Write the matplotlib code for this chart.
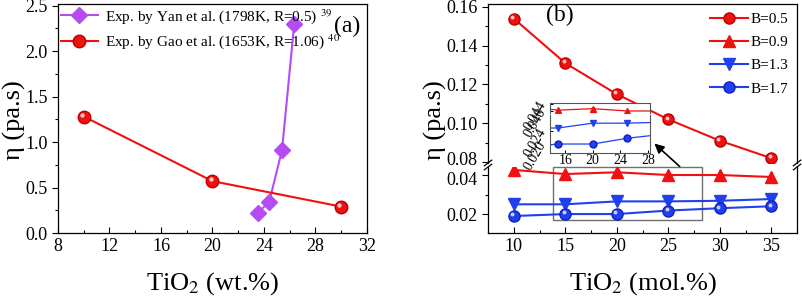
import matplotlib
matplotlib.use('Agg')
import matplotlib.pyplot as plt
from matplotlib.patches import Rectangle, FancyArrowPatch
from matplotlib.ticker import MultipleLocator, FormatStrFormatter
from matplotlib.transforms import offset_copy, ScaledTranslation

plt.rcParams['font.family'] = ['Liberation Serif', 'DejaVu Serif']
plt.rcParams['mathtext.fontset'] = 'stix'

# panel (a) data
yan_x = [23.5, 24.4, 25.4, 26.35]
yan_y = [0.22, 0.34, 0.91, 2.30]
gao_x = [10, 20, 30]
gao_y = [1.28, 0.57, 0.29]

# panel (b) data
tio2_mol = [10, 15, 20, 25, 30, 35]
eta_b05 = [0.154, 0.131, 0.115, 0.102, 0.091, 0.082]
eta_b09 = [0.0426, 0.0405, 0.0414, 0.0400, 0.0400, 0.0390]
eta_b13 = [0.0250, 0.0250, 0.0265, 0.0265, 0.0268, 0.0277]
eta_b17 = [0.0190, 0.0200, 0.0200, 0.0218, 0.0230, 0.0240]
up_ticks = [0.08, 0.10, 0.12, 0.14, 0.16]
lo_ticks = [0.02, 0.04]

red = '#f01010'
blue = '#2040f0'
purple = '#b44cf0'

fig = plt.figure(figsize=(8.02, 3.0), dpi=100)


def style_ticks(ax):
    ax.tick_params(axis='x', which='both', direction='in', top=False, labelsize=13)
    ax.tick_params(axis='y', which='both', direction='out', right=False, labelsize=13)
    ax.tick_params(which='major', length=4, width=0.8)
    ax.tick_params(which='minor', length=2.5, width=0.8)
    for s in ax.spines.values():
        s.set_linewidth(0.9)


def shine(ax, x, y, col, ms):
    # small highlight so the balls look like the original spheres
    tr = offset_copy(ax.transData, fig=fig, x=-ms * 0.15, y=ms * 0.15, units='points')
    ax.plot(x, y, 'o', ms=ms * 0.35, color=col, mec='none', transform=tr, zorder=4)


# ---------------- panel (a) ----------------
ax_a = fig.add_axes([0.0723, 0.2233, 0.3853, 0.7634])
ax_a.plot(yan_x, yan_y, '-D', color=purple, lw=1.5, ms=8, mec=purple,
          label='Exp. by Yan et al. (1798K, R=0.5) $^{39}$')
ax_a.plot(gao_x, gao_y, '-o', color=red, lw=1.5, ms=9, mec='#c00000',
          label='Exp. by Gao et al. (1653K, R=1.06) $^{40}$')
shine(ax_a, gao_x, gao_y, '#ffc8c8', 9)
ax_a.set_xlim(8, 32)
ax_a.set_ylim(0, 2.517)
ax_a.xaxis.set_major_locator(MultipleLocator(4))
ax_a.xaxis.set_minor_locator(MultipleLocator(2))
ax_a.yaxis.set_major_locator(MultipleLocator(0.5))
ax_a.yaxis.set_minor_locator(MultipleLocator(0.25))
ax_a.yaxis.set_major_formatter(FormatStrFormatter('%.1f'))
style_ticks(ax_a)
ax_a.legend(loc='upper left', frameon=False, fontsize=11, handlelength=2.4,
            borderaxespad=0.05, borderpad=0.15, labelspacing=0.4, handletextpad=0.45)
ax_a.text(0.935, 0.9, '(a)', transform=ax_a.transAxes, fontsize=17,
          ha='center', va='center')
ax_a.set_xlabel('TiO$_2$ (wt.%)', fontsize=19, labelpad=11)
fig.text(0.018, 0.6, 'η (pa.s)', rotation=90, fontsize=19, ha='center', va='center')

# ---------------- panel (b), broken axis ----------------
left_b, width_b = 0.6085, 0.3853
ax_up = fig.add_axes([left_b, 0.4567, width_b, 0.53])
ax_lo = fig.add_axes([left_b, 0.2233, width_b, 0.22])

for ax in (ax_up, ax_lo):
    ax.plot(tio2_mol, eta_b05, '-o', color=red, lw=1.5, ms=8, mec='#c00000', label='B=0.5')
    ax.plot(tio2_mol, eta_b09, '-^', color=red, lw=1.5, ms=8, mec=red, label='B=0.9')
    ax.plot(tio2_mol, eta_b13, '-v', color=blue, lw=1.5, ms=8, mec=blue, label='B=1.3')
    ax.plot(tio2_mol, eta_b17, '-o', color=blue, lw=1.5, ms=8, mec='#1020c0', label='B=1.7')
    shine(ax, tio2_mol, eta_b05, '#ffc8c8', 8)
    shine(ax, tio2_mol, eta_b17, '#c8d0ff', 8)
    ax.set_xlim(7.5, 37.5)
    ax.xaxis.set_major_locator(MultipleLocator(5))
    ax.xaxis.set_minor_locator(MultipleLocator(2.5))
    style_ticks(ax)

ax_up.set_ylim(0.0795, 0.1615)
ax_up.set_yticks(up_ticks)
ax_up.set_yticklabels(['%.2f' % t for t in up_ticks])
ax_up.yaxis.set_minor_locator(MultipleLocator(0.01))
ax_up.spines['bottom'].set_visible(False)
ax_up.tick_params(axis='x', which='both', bottom=False, labelbottom=False)

ax_lo.set_ylim(0.0103, 0.0441)
ax_lo.set_yticks(lo_ticks)
ax_lo.set_yticklabels(['%.2f' % t for t in lo_ticks])
ax_lo.yaxis.set_minor_locator(MultipleLocator(0.01))
ax_lo.spines['top'].set_visible(False)
ax_lo.set_xlabel('TiO$_2$ (mol.%)', fontsize=19, labelpad=11)
fig.text(0.543, 0.6, 'η (pa.s)', rotation=90, fontsize=19, ha='center', va='center')

# nudge the two labels next to the break apart a little
lbl_08 = ax_up.get_yticklabels()[0]
lbl_08.set_transform(lbl_08.get_transform() + ScaledTranslation(0, 2.5 / 72, fig.dpi_scale_trans))
lbl_04 = ax_lo.get_yticklabels()[-1]
lbl_04.set_transform(lbl_04.get_transform() + ScaledTranslation(0, -2.5 / 72, fig.dpi_scale_trans))

ax_up.legend(loc='upper right', frameon=False, fontsize=11, handlelength=2.5,
             borderaxespad=0.15, labelspacing=0.62, handletextpad=0.2)
ax_up.text(0.233, 0.925, '(b)', transform=ax_up.transAxes, fontsize=17,
           ha='center', va='center')

# break marks
for xpos in (0, 1):
    for ax, ypos in ((ax_up, 0.0), (ax_lo, 1.0)):
        dx = 0.012
        dy = 0.018 if ax is ax_up else 0.043
        ax.plot([xpos - dx, xpos + dx], [ypos - dy, ypos + dy], color='k', lw=0.9,
                transform=ax.transAxes, clip_on=False)

# zoom box on the lower axis
ax_lo.add_patch(Rectangle((13.8, 0.0169), 14.5, 0.0271, fill=False,
                          edgecolor='#707070', lw=1.0, clip_on=False))

# ---------------- inset ----------------
in_left, in_w = 0.6858, 0.1247
ins_up = fig.add_axes([in_left, 0.6217, in_w, 0.035])
ins_lo = fig.add_axes([in_left, 0.49, in_w, 0.1283])
for ax in (ins_up, ins_lo):
    ax.plot(tio2_mol, eta_b09, '-^', color=red, lw=0.9, ms=5, mec=red)
    ax.plot(tio2_mol, eta_b13, '-v', color=blue, lw=0.9, ms=5, mec=blue)
    ax.plot(tio2_mol, eta_b17, '-o', color=blue, lw=0.9, ms=5, mec='#1020c0')
    ax.set_xlim(13.8, 28.3)
    ax.xaxis.set_major_locator(MultipleLocator(4))
    ax.tick_params(which='both', direction='in', length=2, width=0.7, labelsize=10,
                   top=False, right=False, pad=1)
    for s in ax.spines.values():
        s.set_linewidth(0.8)
        s.set_color('#555555')
ins_up.set_ylim(0.0385, 0.0448)
ins_up.set_yticks([0.040, 0.044])
ins_up.set_yticklabels(['0.040', '0.044'], rotation=60, fontsize=10)
ins_up.spines['bottom'].set_visible(False)
ins_up.tick_params(axis='x', bottom=False, labelbottom=False)
ins_lo.set_ylim(0.0172, 0.0292)
ins_lo.set_yticks([0.020, 0.024])
ins_lo.set_yticklabels(['0.020', '0.024'], rotation=60, fontsize=10)
ins_lo.spines['top'].set_visible(False)
ins_lo.set_xticks([16, 20, 24, 28])

# arrow from box to inset
fig.patches.append(FancyArrowPatch(
    (0.850, 0.439), (0.8134, 0.5277), transform=fig.transFigure,
    arrowstyle='-|>', mutation_scale=14, color='k', lw=1.2))

fig.savefig('out.png', dpi=100)
